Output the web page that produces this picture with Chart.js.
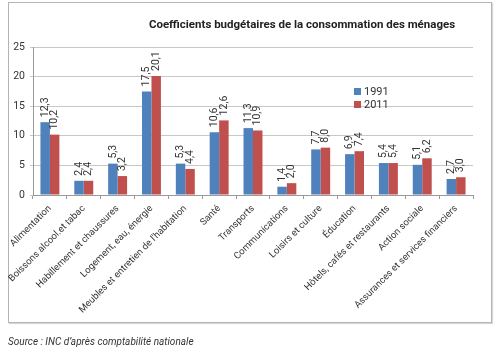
<!DOCTYPE html>
<html lang="fr">
<head>
<meta charset="UTF-8" />
<title>Coefficients budgétaires</title>
<style>
  body { margin: 0; background: #fff; font-family: Roboto, "Liberation Sans", sans-serif; }
  #wrap { position: relative; width: 500px; height: 353px; overflow: hidden; }
  #frame { position: absolute; left: 8px; top: 2px; width: 482px; height: 319px; border: 1px solid #b4b4b4; box-shadow: 1px 1px 1px #d8d8d8; }
  #title { position: absolute; left: 0; width: 500px; top: 17px; text-align: center; padding-left: 104px; box-sizing: border-box; font-weight: bold; font-size: 11.5px; color: #222; }
  #legend { position: absolute; left: 354px; top: 85px; font-size: 11px; color: #333; line-height: 13px; }
  #legend span.sw { display: inline-block; width: 7px; height: 7px; margin-right: 3px; }
  #source { position: absolute; left: 8px; top: 336px; font-style: italic; font-size: 10px; color: #333; }
  canvas { position: absolute; left: 0; top: 0; }
</style>
</head>
<body>
<div id="wrap">
  <div id="frame"></div>
  <canvas id="chart" width="500" height="353"></canvas>
  <div id="title">Coefficients budgétaires de la consommation  des ménages</div>
  <div id="legend">
    <div><span class="sw" style="background:#4f81bd"></span>1991</div>
    <div><span class="sw" style="background:#c0504d"></span>2011</div>
  </div>
  <div id="source">Source : INC d’après comptabilité nationale</div>
</div>

<script src="https://cdn.jsdelivr.net/npm/chart.js"></script>
<script>
// data
const categories = [
  "Alimentation",
  "Boissons alcool.et tabac",
  "Habillement et chaussures",
  "Logement, eau, énergie",
  "Meubles et entretien de l'habitation",
  "Santé",
  "Transports",
  "Communications",
  "Loisirs et culture",
  "Éducation",
  "Hôtels, cafés et restaurants",
  "Action sociale",
  "Assurances et services financiers"
];
const values1991 = [12.3, 2.4, 5.3, 17.5, 5.3, 10.6, 11.3, 1.4, 7.7, 6.9, 5.4, 5.1, 2.7];
const values2011 = [10.2, 2.4, 3.2, 20.1, 4.4, 12.6, 10.9, 2.0, 8.0, 7.4, 5.4, 6.2, 3.0];
const yTicks = [0, 5, 10, 15, 20, 25];

// value labels, rotated, above each bar
const valueLabels = {
  id: "valueLabels",
  afterDatasetsDraw(chart) {
    const ctx = chart.ctx;
    ctx.save();
    ctx.font = "10.5px Roboto, sans-serif";
    ctx.fillStyle = "#333";
    ctx.textAlign = "left";
    ctx.textBaseline = "middle";
    chart.data.datasets.forEach((ds, i) => {
      chart.getDatasetMeta(i).data.forEach((bar, j) => {
        const txt = ds.data[j].toFixed(1).replace(".", ",");
        ctx.save();
        ctx.translate(bar.x, bar.y - 5);
        ctx.rotate(-Math.PI / 2);
        ctx.fillText(txt, 0, 0);
        ctx.restore();
      });
    });
    ctx.restore();
  }
};

const chart = new Chart(document.getElementById("chart"), {
  type: "bar",
  data: {
    labels: categories,
    datasets: [
      { label: "1991", data: values1991, backgroundColor: "#4f81bd" },
      { label: "2011", data: values2011, backgroundColor: "#c0504d" }
    ]
  },
  options: {
    responsive: false,
    animation: false,
    layout: { padding: { left: 8, right: 27, top: 47, bottom: 38 } },
    plugins: { legend: { display: false }, tooltip: { enabled: false } },
    datasets: { bar: { categoryPercentage: 0.56, barPercentage: 1 } },
    scales: {
      x: {
        afterFit: s => { s.height = 120; },
        border: { color: "#999" },
        grid: { offset: true, drawOnChartArea: false, drawTicks: true, tickLength: 4, color: "#999" },
        ticks: { autoSkip: false, minRotation: 45, maxRotation: 45, padding: 4, color: "#333", font: { family: "Roboto", size: 9.5 } }
      },
      y: {
        min: 0, max: 25,
        afterFit: s => { s.width = 25; },
        afterBuildTicks: s => { s.ticks = yTicks.map(v => ({ value: v })); },
        border: { color: "#999" },
        grid: { color: "#c8c8c8", tickLength: 3 },
        ticks: { padding: 5, color: "#333", font: { family: "Roboto", size: 10.5 } }
      }
    }
  },
  plugins: [valueLabels]
});
</script>
</body>
</html>
